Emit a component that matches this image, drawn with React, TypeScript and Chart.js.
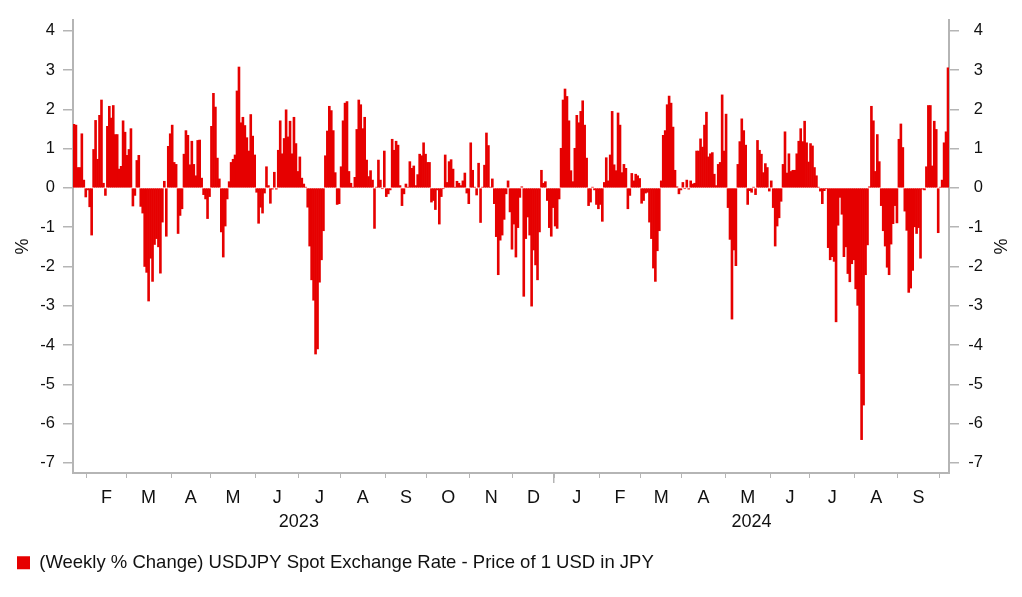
import React, { useEffect, useRef } from 'react';
import { Chart, registerables } from 'chart.js';

Chart.register(...registerables);

// ---------- data ----------
const START_DATE = '2023-01-23'; // first business day shown
const SERIES_LABEL = '(Weekly % Change) USDJPY Spot Exchange Rate - Price of 1 USD in JPY';
const MONTH_LETTERS = ['J', 'F', 'M', 'A', 'M', 'J', 'J', 'A', 'S', 'O', 'N', 'D'];
const Y_TICKS = [-7, -6, -5, -4, -3, -2, -1, 0, 1, 2, 3, 4];
const Y_MIN = -7.26;
const Y_MAX = 4.28;

// one value per business day, starting at START_DATE
const WEEKLY_CHANGE_2023_A = [
  1.62, 1.6, 0.52, 0.52, 1.38, 0.2, -0.23, -0.05, -0.48, -1.2, 0.98, 1.72, 0.73, 1.85, 2.24, 0.12,
  -0.19, 1.57, 2.08, 1.78, 2.1, 1.36, 1.36, 0.48, 0.55, 1.71, 1.42, 0.83, 0.98, 1.51, -0.46, -0.19,
  0.7, 0.83, -0.47, -0.64, -2.0, -2.15, -2.88, -1.79, -2.38, -1.44, -1.29, -1.5, -2.17, -0.87, 0.17, -1.23,
  1.06, 1.38, 1.6, 0.65, 0.6, -1.16, -0.7, -0.53, 0.86, 1.46, 1.34, 0.59, 1.19, 0.6, 0.31, 1.21,
];
const WEEKLY_CHANGE_2023_B = [
  1.22, 0.25, -0.17, -0.28, -0.78, -0.22, 1.57, 2.41, 2.06, 0.76, 0.23, -1.12, -1.76, -0.97, -0.28, 0.16,
  0.65, 0.73, 0.84, 2.47, 3.08, 1.66, 1.8, 1.59, 1.28, 0.94, 1.87, 1.32, 0.84, -0.11, -0.9, -0.49,
  -0.64, -0.13, 0.54, 0.06, -0.39, -0.03, 0.4, -0.03, 0.96, 1.71, 0.87, 1.26, 1.99, 1.3, 1.7, 0.87,
  1.8, 1.13, 0.42, 0.79, 0.25, 0.1, 0.02, -0.49, -1.48, -2.34, -2.86, -4.23, -4.1, -2.4, -1.83, -1.09,
];
const WEEKLY_CHANGE_2023_C = [
  0.82, 1.45, 2.08, 1.97, 1.46, 0.39, -0.42, -0.4, 0.54, 1.71, 2.16, 2.2, 0.42, 0.12, 0.02, 0.27,
  1.49, 2.24, 2.12, 1.51, 1.8, 0.71, 0.29, 0.44, 0.2, -1.03, 0.02, 0.71, 0.2, -0.02, 0.94, -0.22,
  -0.15, -0.05, 1.24, 0.96, 1.19, 1.09, 0.06, -0.45, -0.15, 0.1, 0.02, 0.67, 0.5, 0.56, 0.06, 0.34,
  0.86, 0.82, 1.15, 0.86, 0.65, 0.65, -0.36, -0.32, -0.55, -0.05, -0.92, -0.22, -0.02, 0.84, 0.14,
];
const WEEKLY_CHANGE_2023_D = [
  0.67, 0.72, 0.48, 0.02, 0.17, 0.12, 0.06, 0.18, 0.38, -0.13, -0.4, 1.15, 0.45, 0.02, -0.18, 0.63,
  -0.88, 0.02, 0.58, 1.4, 1.08, 0.02, 0.23, -0.4, -1.24, -2.21, -1.33, -1.2, -0.8, -0.15, 0.18, -0.61,
  -1.56, -0.92, -1.76, -1.01, -0.24, 0.03, -2.76, -1.29, -0.74, -1.2, -3.01, -1.58, -1.96, -2.34, -1.12, 0.45,
  0.12, 0.16, -0.32, -1.01, -1.23, -0.5, -0.97, -1.03, -0.28, 1.01, 2.24, 2.52, 2.33, 1.71, 0.44,
];
const WEEKLY_CHANGE_2024_A = [
  0.16, 1.01, 1.85, 1.66, 1.95, 2.22, 1.6, 0.76, -0.45, -0.36, 0.02, -0.05, -0.42, -0.53, -0.42, -0.85,
  0.14, 0.77, 0.18, 0.84, 1.95, 0.59, 0.44, 1.91, 1.6, 0.39, 0.6, 0.5, -0.53, -0.19, 0.37, 0.18,
  0.35, 0.31, 0.24, -0.39, -0.32, -0.13, -0.11, -0.87, -1.29, -2.04, -2.38, -1.6, -1.09, 0.18, 1.34, 1.46,
  2.12, 2.34, 2.16, 1.55, 0.45, 0.03, -0.15, -0.05, 0.14, -0.02, 0.2, -0.03, 0.18, 0.1, 0.12, 0.94,
];
const WEEKLY_CHANGE_2024_B = [
  0.94, 1.25, 1.04, 1.6, 1.93, 0.79, 0.87, 0.9, 0.35, 0.06, 0.6, 0.65, 2.37, 0.94, 1.88, -0.5,
  -1.31, -3.34, -1.58, -1.98, 0.6, 1.18, 1.76, 1.46, 1.09, -0.42, -0.07, -0.11, 0.02, -0.17, 1.21, 0.96,
  0.86, 0.39, 0.62, 0.52, -0.08, 0.18, -0.5, -1.48, -0.97, -0.76, -0.34, 0.6, 1.43, 0.38, 0.87, 0.42,
  0.45, 0.45, 0.87, 1.19, 1.51, 1.18, 1.7, 1.15, 0.66, 1.13, 1.07, 0.52, 0.31, 0.02, -0.08, -0.4,
];
const WEEKLY_CHANGE_2024_C = [
  -0.07, -0.02, -1.52, -1.83, -1.75, -1.87, -3.41, -0.95, -0.24, -0.67, -1.75, -1.5, -2.18, -2.39, -1.93, -1.83,
  -2.57, -2.99, -4.73, -6.41, -5.53, -2.21, -1.45, 0.03, 2.08, 1.71, 0.42, 1.36, 0.67, -0.45, -1.09, -1.48,
  -2.02, -2.21, -1.43, -0.91, -0.45, -0.89, 1.24, 1.63, 1.03, -0.59, -1.08, -2.66, -2.55, -2.1, -0.99, -1.16,
  -1.01, -1.79, -0.03, -0.05, 0.54, 2.1, 2.1, 0.56, 1.7, 1.49, -1.14, 0.02, 0.2, 1.15, 1.43, 3.06,
];

const WEEKLY_CHANGE = [
  ...WEEKLY_CHANGE_2023_A,
  ...WEEKLY_CHANGE_2023_B,
  ...WEEKLY_CHANGE_2023_C,
  ...WEEKLY_CHANGE_2023_D,
  ...WEEKLY_CHANGE_2024_A,
  ...WEEKLY_CHANGE_2024_B,
  ...WEEKLY_CHANGE_2024_C,
];

// ---------- styling ----------
const FONT_FAMILY = "'Liberation Sans', Arial, Helvetica, sans-serif";
const TEXT = '#111111';
const AXIS = '#b5b5b5';
const BAR = '#e60000';
const W = 1022;
const H = 597;
const PLOT_BOTTOM = 473;
const PAD_TOP = 14;
const PAD_BOTTOM = 15;
const PAD_RIGHT = 39;
const LEFT_AXIS_W = 73;
const RIGHT_AXIS_W = 34;
const TICK_AXIS_H = 6;
const MONTH_AXIS_H = 30;
const X_FONT = 18;
const Y_FONT = 16.5;
const LEGEND_FONT = 18.5;

// ---------- helpers ----------
function parseUTC(s: string) {
  const [y, m, d] = s.split('-').map(Number);
  return new Date(Date.UTC(y, m - 1, d));
}
function isWeekday(d: Date) {
  const w = d.getUTCDay();
  return w !== 0 && w !== 6;
}
function businessDays(start: string, n: number) {
  const out: Date[] = [];
  const d = parseUTC(start);
  while (out.length < n) {
    if (isWeekday(d)) out.push(new Date(d.getTime()));
    d.setUTCDate(d.getUTCDate() + 1);
  }
  return out;
}
// signed count of business days from a to b
function bdaysBetween(a: Date, b: Date) {
  const sign = a <= b ? 1 : -1;
  const from = new Date(Math.min(a.getTime(), b.getTime()));
  const to = Math.max(a.getTime(), b.getTime());
  let c = 0;
  while (from.getTime() < to) {
    if (isWeekday(from)) c++;
    from.setUTCDate(from.getUTCDate() + 1);
  }
  return sign * c;
}

export default function App() {
  const ref = useRef<HTMLCanvasElement | null>(null);

  useEffect(() => {
    if (!ref.current) return;
    const N = WEEKLY_CHANGE.length;
    const dates = businessDays(START_DATE, N);
    const start = dates[0];

    const monthStarts: number[] = [];
    const yearStarts: number[] = [];
    for (let i = 1; i < N; i++) {
      if (dates[i].getUTCMonth() !== dates[i - 1].getUTCMonth()) monthStarts.push(i);
      if (dates[i].getUTCFullYear() !== dates[i - 1].getUTCFullYear()) yearStarts.push(i);
    }
    const monthLabels: { pos: number; text: string }[] = [];
    for (let k = 0; k < monthStarts.length - 1; k++) {
      const a = monthStarts[k];
      const b = monthStarts[k + 1];
      monthLabels.push({ pos: (a + b) / 2, text: MONTH_LETTERS[dates[a].getUTCMonth()] });
    }
    const years = Array.from(new Set(dates.map((d) => d.getUTCFullYear())));
    const yearLabels = years.map((y) => {
      const ys = bdaysBetween(start, new Date(Date.UTC(y, 0, 1)));
      const ye = Math.min(bdaysBetween(start, new Date(Date.UTC(y + 1, 0, 1))), N);
      return { pos: (ys + ye) / 2, text: String(y) };
    });

    const points = WEEKLY_CHANGE.map((v, i) => ({ x: i + 0.5, y: v }));

    const xBase = (extra: any) => ({
      type: 'linear',
      min: 0,
      max: N,
      offset: false,
      bounds: 'data',
      ...extra,
    });

    const chart = new Chart(ref.current, {
      type: 'bar',
      data: {
        datasets: [
          {
            label: SERIES_LABEL,
            data: points as any,
            backgroundColor: BAR,
            borderWidth: 0,
            barPercentage: 1,
            categoryPercentage: 1,
          },
        ],
      },
      options: {
        animation: false,
        responsive: false,
        events: [],
        layout: { padding: { top: PAD_TOP, bottom: PAD_BOTTOM, left: 0, right: PAD_RIGHT } },
        plugins: {
          legend: {
            display: true,
            position: 'bottom',
            align: 'start',
            labels: {
              boxWidth: 13,
              boxHeight: 13,
              padding: 17,
              color: TEXT,
              font: { family: FONT_FAMILY, size: LEGEND_FONT },
            },
          },
          tooltip: { enabled: false },
        },
        scales: {
          x: xBase({
            position: 'bottom',
            afterBuildTicks: (s: any) => {
              s.ticks = monthStarts.map((v) => ({ value: v }));
            },
            ticks: { display: false, autoSkip: false },
            grid: { offset: false, drawOnChartArea: false, drawTicks: true, tickLength: 5, color: AXIS, lineWidth: 1 },
            border: { display: true, color: AXIS, width: 2 },
            afterFit: (s: any) => {
              s.height = TICK_AXIS_H;
            },
          }),
          xTick: xBase({
            axis: 'x',
            position: { y: Y_MIN },
            afterBuildTicks: (s: any) => {
              s.ticks = yearStarts.map((v) => ({ value: v }));
            },
            ticks: { display: false, autoSkip: false },
            grid: { offset: false, drawOnChartArea: false, drawTicks: true, tickLength: 10, color: AXIS, lineWidth: 1.5 },
            border: { display: false },
          }),
          xMonth: xBase({
            position: 'bottom',
            afterBuildTicks: (s: any) => {
              s.ticks = monthLabels.map((m) => ({ value: m.pos }));
            },
            ticks: {
              autoSkip: false,
              maxRotation: 0,
              minRotation: 0,
              padding: 8,
              color: TEXT,
              font: { family: FONT_FAMILY, size: X_FONT },
              callback: (_v: any, i: number) => monthLabels[i]?.text ?? '',
            },
            grid: { offset: false, display: false, drawTicks: false, tickLength: 0 },
            border: { display: false },
            afterFit: (s: any) => {
              s.height = MONTH_AXIS_H;
            },
          }),
          xYear: xBase({
            position: 'bottom',
            afterBuildTicks: (s: any) => {
              s.ticks = yearLabels.map((m) => ({ value: m.pos }));
            },
            ticks: {
              autoSkip: false,
              maxRotation: 0,
              minRotation: 0,
              padding: 2,
              color: TEXT,
              font: { family: FONT_FAMILY, size: X_FONT },
              callback: (_v: any, i: number) => yearLabels[i]?.text ?? '',
            },
            grid: { offset: false, display: false, drawTicks: false, tickLength: 0 },
            border: { display: false },
            afterFit: (s: any) => {
              const legendH = (s.chart.legend && s.chart.legend.height) || 0;
              s.height = Math.max(H - PAD_BOTTOM - legendH - PLOT_BOTTOM - TICK_AXIS_H - MONTH_AXIS_H, 0);
            },
          }),
          y: {
            type: 'linear',
            position: 'left',
            min: Y_MIN,
            max: Y_MAX,
            afterBuildTicks: (s: any) => {
              s.ticks = Y_TICKS.map((v) => ({ value: v }));
            },
            ticks: {
              padding: 8,
              color: TEXT,
              font: { family: FONT_FAMILY, size: Y_FONT },
              callback: (v: any) => String(v),
            },
            grid: { drawOnChartArea: false, drawTicks: true, tickLength: 10, color: AXIS, lineWidth: 1.5 },
            border: { display: true, color: AXIS, width: 2 },
            title: {
              display: true,
              text: '%',
              color: TEXT,
              font: { family: FONT_FAMILY, size: X_FONT },
              padding: 12,
            },
            afterFit: (s: any) => {
              s.width = LEFT_AXIS_W;
            },
          },
          y2: {
            type: 'linear',
            position: 'right',
            min: Y_MIN,
            max: Y_MAX,
            afterBuildTicks: (s: any) => {
              s.ticks = Y_TICKS.map((v) => ({ value: v }));
            },
            ticks: {
              padding: 10,
              crossAlign: 'far',
              color: TEXT,
              font: { family: FONT_FAMILY, size: Y_FONT },
              callback: (v: any) => String(v),
            },
            grid: { drawOnChartArea: false, drawTicks: true, tickLength: 10, color: AXIS, lineWidth: 1.5 },
            border: { display: true, color: AXIS, width: 2 },
            title: {
              display: true,
              text: '%',
              color: TEXT,
              font: { family: FONT_FAMILY, size: X_FONT },
              padding: { top: -27, bottom: 0 },
            },
            afterFit: (s: any) => {
              s.width = RIGHT_AXIS_W;
            },
          },
        },
      } as any,
    });

    return () => {
      chart.destroy();
    };
  }, []);

  return (
    <div style={{ position: 'absolute', left: 0, top: 0, width: W, height: H, background: '#ffffff' }}>
      <canvas ref={ref} width={W} height={H} style={{ width: W, height: H, display: 'block' }} />
    </div>
  );
}
